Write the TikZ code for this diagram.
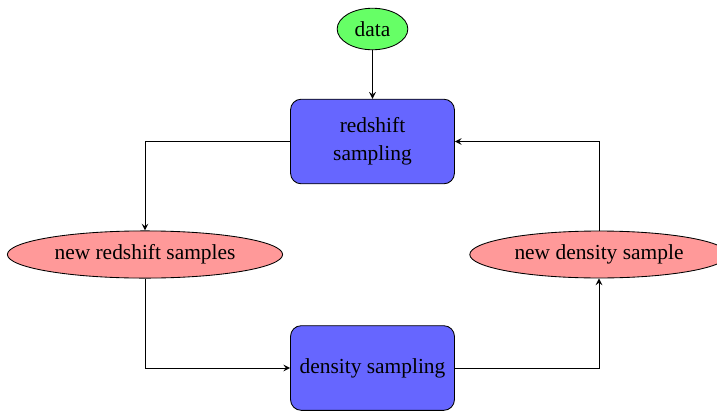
\documentclass[tikz,border=0pt]{standalone}
\usepackage{fontspec}
\setmainfont{Liberation Serif}
\usetikzlibrary{shapes.geometric}
\begin{document}
\begin{tikzpicture}[x=0.4667pt,y=-0.4667pt,
  every node/.style={font=\fontsize{10}{13.2}\selectfont},
  greenell/.style={ellipse,draw,fill=green!60},
  redell/.style={ellipse,draw,fill=red!40,inner sep=3.2pt},
  bluebox/.style={rectangle,rounded corners=5pt,draw,fill=blue!60,minimum width=76.5pt,minimum height=39.5pt,align=center},
  conn/.style={-stealth,thin}]
\useasboundingbox (0,0) rectangle (717,411);
\node[greenell] (data) at (372.5,29) {data};
\node[bluebox] (rs) at (372.5,141.5) {redshift\\sampling};
\node[redell] (nrs) at (145,254.5) {new redshift samples};
\node[redell] (nds) at (599,254.5) {new density sample};
\node[bluebox] (ds) at (372.5,368) {density sampling};
\draw[conn] (data) -- (rs);
\draw[conn] (rs.west) -| (nrs.north);
\draw[conn] (nrs.south) |- (ds.west);
\draw[conn] (ds.east) -| (nds.south);
\draw[conn] (nds.north) |- (rs.east);
\end{tikzpicture}
\end{document}
